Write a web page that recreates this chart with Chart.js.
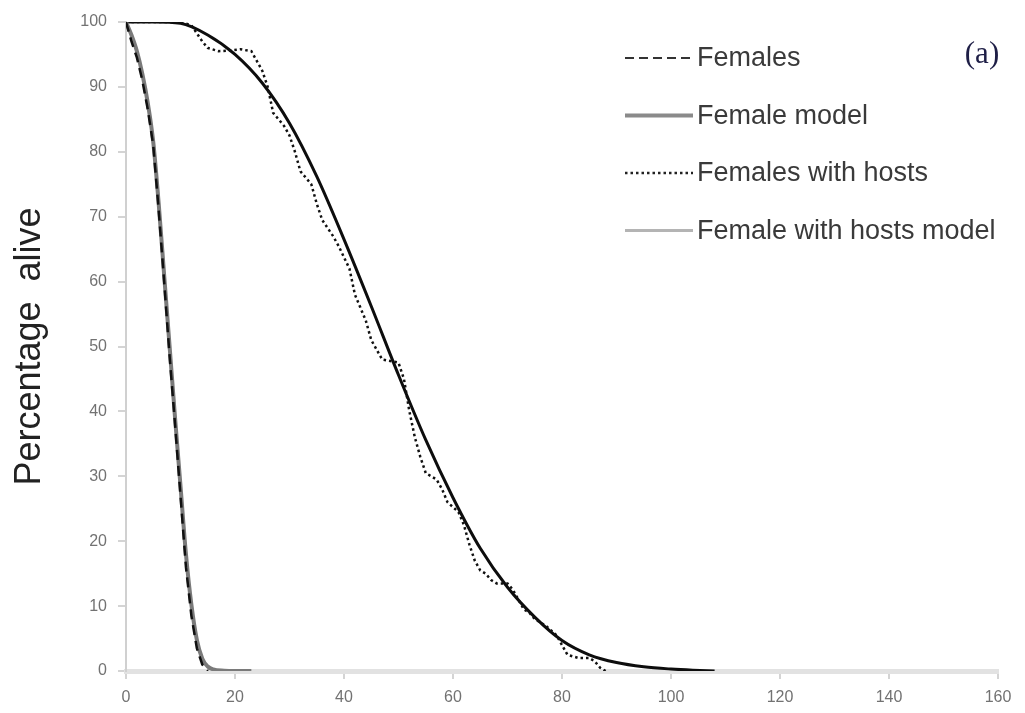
<!DOCTYPE html>
<html>
<head>
<meta charset="utf-8">
<script src="https://cdn.jsdelivr.net/npm/chart.js@4.4.1/dist/chart.umd.min.js"></script>
<style>
  html, body { margin: 0; padding: 0; background: #ffffff; }
  #wrap { width: 1025px; height: 713px; position: relative; }
</style>
</head>
<body>
<div id="wrap"><canvas id="c" width="1025" height="713"></canvas></div>
<script>
// ---- Data ----
const seriesNames = ['Females', 'Female model', 'Females with hosts', 'Female with hosts model'];

// Females (observed, dashed)
const femalesX = [0, 1, 2, 3, 4, 5, 6, 7, 8, 9, 10, 11, 12, 13, 14, 15];
const femalesY = [100, 97, 94.5, 91, 86.5, 81, 71, 60, 48.5, 38, 27, 16, 8.5, 3.5, 1, 0];

// Female model (solid, grey)
const femaleModelX = [0, 1, 2, 3, 4, 5, 6, 7, 8, 9, 10, 11, 12, 13, 14, 15, 16, 18, 20, 23];
const femaleModelY = [100, 98, 95.5, 92, 87.5, 81.5, 72, 61, 50, 39, 28.5, 18, 10.2, 4.8, 1.9, 0.7, 0.25, 0.05, 0, 0];

// Females with hosts (observed, dotted)
const hostsX = [0, 5, 10, 12, 14, 15, 17, 19, 21, 23, 24, 25, 26, 27, 29, 30, 31, 32, 34, 35, 36, 38, 39, 41, 42, 43, 44, 45, 46, 47, 49, 50, 51, 52, 53, 54, 55, 56, 57, 58, 59, 61, 62, 63, 64, 65, 66, 67, 68, 70, 71, 72, 73, 74, 75, 77, 79, 80, 81, 83, 85, 86, 87, 88];
const hostsY = [100, 100, 100, 99.5, 97, 96, 95.5, 95.6, 95.8, 95.5, 94, 92.5, 90, 86, 84, 82.5, 80, 77, 75, 72, 69.5, 67, 65.5, 62, 58, 56, 54, 51, 49.5, 48, 47.7, 47.5, 45, 40, 36, 33, 30.5, 30, 29.5, 28, 26, 24.5, 22.5, 19.5, 17, 15.5, 15, 14, 13.5, 13.5, 12.5, 11, 9.5, 9, 8, 7, 5.5, 4, 2.5, 2, 2, 1.5, 0.5, 0];

// Female with hosts model (solid)
const hostsModelX = [0, 5, 10, 15, 20, 25, 30, 35, 40, 45, 50, 55, 60, 65, 70, 75, 80, 85, 90, 95, 100, 104, 108];
const hostsModelY = [100, 100, 99.8, 98, 95, 90.6, 84.4, 76.2, 66.5, 56.2, 45.6, 35.6, 26.7, 18.9, 12.9, 8.3, 4.7, 2.5, 1.3, 0.65, 0.3, 0.12, 0];

// Axis ticks
const xTicks = [0, 20, 40, 60, 80, 100, 120, 140, 160];
const yTicks = [0, 10, 20, 30, 40, 50, 60, 70, 80, 90, 100];

const yTitle = 'Percentage  alive';
const panelLabel = '(a)';

function pts(xs, ys) { return xs.map((x, i) => ({ x: x, y: ys[i] })); }

// Legend styles (as shown in the reference legend)
const legendStyles = [
  { color: '#333333', width: 2, dash: [9, 5] },
  { color: '#8a8a8a', width: 4, dash: [] },
  { color: '#222222', width: 2.5, dash: [2.5, 3] },
  { color: '#b4b4b4', width: 3, dash: [] }
];

const customLegend = {
  id: 'customLegend',
  afterDraw(chart) {
    const ctx = chart.ctx;
    const ca = chart.chartArea;
    const lineX0 = ca.left + 499, lineX1 = ca.left + 567, textX = ca.left + 571;
    const y0 = ca.top + 36, step = 57.5;
    ctx.save();
    ctx.font = '27px "Liberation Sans", Arial, sans-serif';
    ctx.textBaseline = 'middle';
    ctx.textAlign = 'left';
    chart.data.datasets.forEach((ds, i) => {
      const st = legendStyles[i];
      const y = y0 + i * step;
      ctx.beginPath();
      ctx.setLineDash(st.dash);
      ctx.strokeStyle = st.color;
      ctx.lineWidth = st.width;
      ctx.moveTo(lineX0, y);
      ctx.lineTo(lineX1, y);
      ctx.stroke();
      ctx.setLineDash([]);
      ctx.fillStyle = '#3a3a3a';
      ctx.fillText(ds.label, textX, y + 1);
    });
    ctx.font = '31px "Liberation Serif", "Times New Roman", serif';
    ctx.fillStyle = '#1e1e46';
    ctx.textAlign = 'center';
    ctx.fillText(panelLabel, ca.right - 16, ca.top + 33);
    ctx.restore();
  }
};

new Chart(document.getElementById('c'), {
  type: 'line',
  data: {
    datasets: [
      { label: seriesNames[0], data: pts(femalesX, femalesY), borderColor: '#111111', borderWidth: 2.5, borderDash: [10, 6], tension: 0, pointRadius: 0, order: 0 },
      { label: seriesNames[1], data: pts(femaleModelX, femaleModelY), borderColor: '#7a7a7a', borderWidth: 4, cubicInterpolationMode: 'monotone', pointRadius: 0, order: 1 },
      { label: seriesNames[2], data: pts(hostsX, hostsY), borderColor: '#111111', borderWidth: 2.5, borderDash: [2.5, 3], tension: 0, pointRadius: 0, order: 2 },
      { label: seriesNames[3], data: pts(hostsModelX, hostsModelY), borderColor: '#0d0d0d', borderWidth: 3, cubicInterpolationMode: 'monotone', pointRadius: 0, order: 3 }
    ]
  },
  options: {
    responsive: false,
    animation: false,
    devicePixelRatio: 1,
    layout: { padding: { left: 0, right: 27, top: 22, bottom: 0 } },
    plugins: { legend: { display: false }, tooltip: { enabled: false } },
    scales: {
      x: {
        type: 'linear', min: 0, max: 160,
        afterBuildTicks: (s) => { s.ticks = xTicks.map(v => ({ value: v })); },
        afterFit: (s) => { s.height = 42; },
        grid: { drawOnChartArea: false, drawTicks: true, tickLength: 8, color: '#d4d4d4', lineWidth: 2 },
        border: { display: true, color: '#e2e2e2', width: 5 },
        ticks: { color: '#727272', font: { family: '"Liberation Sans", Arial, sans-serif', size: 16 }, padding: 9, maxRotation: 0 }
      },
      y: {
        type: 'linear', min: 0, max: 100,
        afterBuildTicks: (s) => { s.ticks = yTicks.map(v => ({ value: v })); },
        afterFit: (s) => { s.width = 126; },
        grid: { drawOnChartArea: false, drawTicks: true, tickLength: 8, color: '#d4d4d4', lineWidth: 2 },
        border: { display: true, color: '#d0d0d0', width: 2 },
        ticks: { color: '#727272', font: { family: '"Liberation Sans", Arial, sans-serif', size: 16 }, padding: 11 },
        title: { display: true, text: yTitle, color: '#222222', font: { family: '"Liberation Sans", Arial, sans-serif', size: 36 }, padding: { top: 8, bottom: 0 } }
      }
    }
  },
  plugins: [customLegend]
});
</script>
</body>
</html>
